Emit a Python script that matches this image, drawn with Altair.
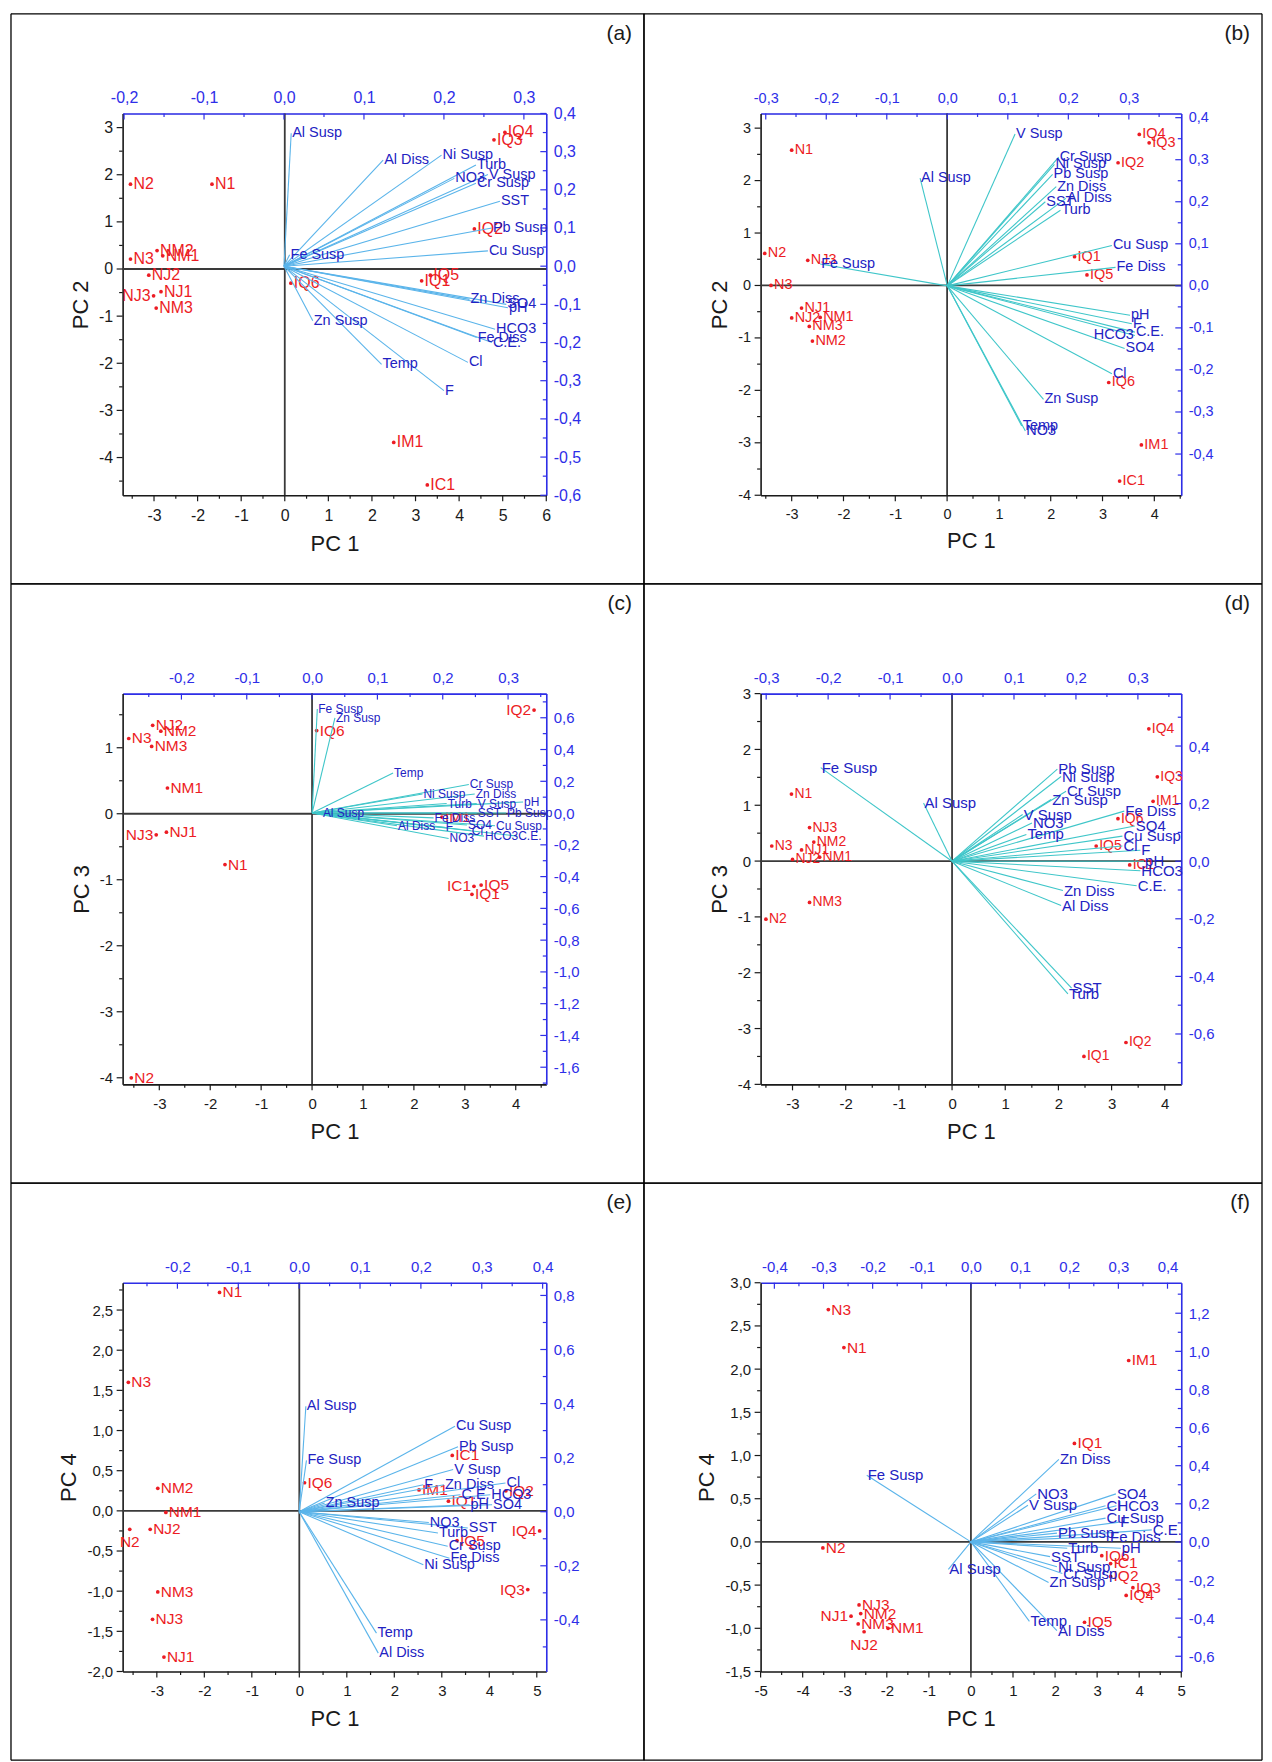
import math
import altair as alt
import pandas as pd

FONT = "Liberation Sans"
RED = "#ec1c24"
VBLUE = "#2222c2"
ABLUE = "#2e2ee8"
BLACK = "#1a1a1a"

# ---------------- panel (a): PC1 vs PC2 ----------------
a_pt_names = ["IQ4", "IQ3", "N2", "N1", "IQ2", "NM2", "N3", "NM1", "NJ2", "NJ1", "NJ3", "NM3", "IQ6", "IQ5", "IQ1", "IM1", "IC1"]
a_pt_x = [5.05, 4.8, -3.54, -1.67, 4.35, -2.93, -3.54, -2.8, -3.12, -2.84, -3.01, -2.95, 0.14, 3.34, 3.14, 2.5, 3.27]
a_pt_y = [2.9, 2.74, 1.8, 1.8, 0.85, 0.39, 0.21, 0.28, -0.13, -0.48, -0.57, -0.83, -0.3, -0.13, -0.25, -3.68, -4.58]
a_pt_side = ["r", "r", "r", "r", "r", "r", "r", "r", "r", "r", "l", "r", "r", "r", "r", "r", "r"]
a_vec_names = ["Al Susp", "Al Diss", "Ni Susp", "Turb", "V Susp", "NO3", "Cr Susp", "SST", "Pb Susp", "Cu Susp", "Fe Susp",
               "Zn Diss", "SO4", "pH", "HCO3", "Fe Diss", "C.E.", "Cl", "F", "Temp", "Zn Susp"]
a_vec_x = [0.009, 0.124, 0.197, 0.24, 0.255, 0.213, 0.24, 0.27, 0.26, 0.255, 0.007,
           0.232, 0.278, 0.28, 0.264, 0.241, 0.26, 0.23, 0.2, 0.122, 0.036]
a_vec_y = [0.348, 0.278, 0.291, 0.265, 0.24, 0.23, 0.217, 0.17, 0.10, 0.04, 0.03,
           -0.087, -0.1, -0.109, -0.165, -0.187, -0.2, -0.252, -0.326, -0.257, -0.143]
a_vec_side = ["r"] * len(a_vec_names)

# ---------------- panel (b): PC1 vs PC2 ----------------
b_pt_names = ["N1", "IQ4", "IQ3", "IQ2", "N2", "NJ3", "N3", "IQ1", "IQ5", "NJ1", "NJ2", "NM1", "NM3", "NM2", "IQ6", "IM1", "IC1"]
b_pt_x = [-3.0, 3.71, 3.9, 3.3, -3.52, -2.69, -3.4, 2.46, 2.7, -2.81, -3.0, -2.45, -2.66, -2.6, 3.12, 3.75, 3.33]
b_pt_y = [2.58, 2.88, 2.72, 2.34, 0.61, 0.48, 0.0, 0.55, 0.2, -0.43, -0.62, -0.61, -0.78, -1.06, -1.85, -3.04, -3.73]
b_pt_side = ["r"] * len(b_pt_names)
b_vec_names = ["V Susp", "Al Susp", "Cr Susp", "Ni Susp", "Pb Susp", "Zn Diss", "SST", "Al Diss", "Turb", "Cu Susp", "Fe Diss",
               "Fe Susp", "pH", "F", "C.E.", "HCO3", "SO4", "Cl", "Zn Susp", "Temp", "NO3"]
b_vec_x = [0.112, -0.045, 0.184, 0.177, 0.174, 0.18, 0.162, 0.196, 0.187, 0.272, 0.278,
           -0.21, 0.302, 0.305, 0.31, 0.31, 0.293, 0.272, 0.159, 0.123, 0.129]
b_vec_y = [0.361, 0.256, 0.306, 0.289, 0.265, 0.236, 0.2, 0.208, 0.18, 0.096, 0.044,
           0.052, -0.07, -0.09, -0.11, -0.118, -0.149, -0.209, -0.27, -0.333, -0.345]
b_vec_side = ["r"] * 15 + ["l"] + ["r"] * 5

# ---------------- panel (c): PC1 vs PC3 ----------------
c_pt_names = ["IQ2", "NJ2", "NM2", "N3", "NM3", "IQ6", "NM1", "NJ3", "NJ1", "N1", "IC1", "IQ5", "IQ1", "N2", "IM1"]
c_pt_x = [4.36, -3.13, -2.97, -3.6, -3.15, 0.09, -2.84, -3.06, -2.86, -1.71, 3.18, 3.32, 3.14, -3.55, 2.55]
c_pt_y = [1.57, 1.34, 1.25, 1.14, 1.02, 1.26, 0.39, -0.32, -0.28, -0.77, -1.1, -1.08, -1.22, -4.0, -0.05]
c_pt_side = ["l", "r", "r", "r", "r", "r", "r", "l", "r", "r", "l", "r", "r", "r", "r"]
c_vec_names = ["Fe Susp", "Zn Susp", "Temp", "Al Susp", "Ni Susp", "Cr Susp", "Zn Diss", "Turb", "V Susp", "pH", "SST",
               "Pb Susp", "Fe Diss", "Al Diss", "F", "SO4", "Cu Susp", "Cl", "NO3", "HCO3", "C.E."]
c_vec_x = [0.008, 0.035, 0.124, 0.015, 0.169, 0.24, 0.249, 0.206, 0.252, 0.323, 0.252,
           0.297, 0.186, 0.13, 0.203, 0.237, 0.28, 0.243, 0.209, 0.263, 0.314]
c_vec_y = [0.655, 0.6, 0.252, 0.0, 0.12, 0.18, 0.12, 0.06, 0.06, 0.07, 0.0,
           0.0, -0.03, -0.08, -0.09, -0.075, -0.08, -0.11, -0.16, -0.145, -0.145]
c_vec_side = ["r"] * len(c_vec_names)

# ---------------- panel (d): PC1 vs PC3 ----------------
d_pt_names = ["IQ4", "IQ3", "IM1", "N1", "NJ3", "NM2", "N3", "NJ1", "NJ2", "NM1", "IQ6", "IQ5", "IC1", "NM3", "N2", "IQ2", "IQ1"]
d_pt_x = [3.7, 3.86, 3.78, -3.02, -2.68, -2.6, -3.39, -2.83, -3.0, -2.49, 3.12, 2.71, 3.34, -2.68, -3.5, 3.27, 2.48]
d_pt_y = [2.37, 1.51, 1.07, 1.2, 0.6, 0.34, 0.27, 0.2, 0.03, 0.07, 0.76, 0.27, -0.07, -0.74, -1.04, -3.25, -3.5]
d_pt_side = ["r"] * len(d_pt_names)
d_vec_names = ["Fe Susp", "Al Susp", "Pb Susp", "Ni Susp", "Cr Susp", "Zn Susp", "V Susp", "NO3", "Temp", "Fe Diss", "SO4",
               "Cu Susp", "Cl", "F", "pH", "HCO3", "C.E.", "Zn Diss", "Al Diss", "SST", "Turb"]
d_vec_x = [-0.212, -0.046, 0.17, 0.176, 0.184, 0.16, 0.114, 0.129, 0.12, 0.278, 0.295,
           0.275, 0.275, 0.304, 0.31, 0.304, 0.298, 0.179, 0.176, 0.193, 0.187]
d_vec_y = [0.325, 0.202, 0.32, 0.294, 0.243, 0.214, 0.162, 0.133, 0.093, 0.174, 0.122,
           0.087, 0.053, 0.038, 0.0, -0.033, -0.085, -0.102, -0.154, -0.441, -0.461]
d_vec_side = ["r"] * len(d_vec_names)

# ---------------- panel (e): PC1 vs PC4 ----------------
e_pt_names = ["N1", "N3", "NM2", "IQ6", "NM1", "NJ2", "N2", "NM3", "NJ3", "NJ1", "IC1", "IM1", "IQ1", "IQ2", "IQ5", "IQ4", "IQ3"]
e_pt_x = [-1.68, -3.6, -2.98, 0.11, -2.81, -3.14, -3.57, -2.98, -3.09, -2.85, 3.22, 2.52, 3.14, 4.35, 3.32, 5.06, 4.81]
e_pt_y = [2.72, 1.6, 0.28, 0.35, -0.02, -0.23, -0.23, -1.01, -1.35, -1.82, 0.69, 0.26, 0.12, 0.25, -0.37, -0.25, -0.98]
e_pt_side = ["r", "r", "r", "r", "r", "r", "b", "r", "r", "r", "r", "r", "r", "r", "r", "l", "l"]
e_vec_names = ["Al Susp", "Fe Susp", "Cu Susp", "Pb Susp", "V Susp", "F", "Zn Diss", "Cl", "C.E.", "HCO3", "pH",
               "SO4", "Zn Susp", "NO3", "SST", "Turb", "Cr Susp", "Fe Diss", "Ni Susp", "Temp", "Al Diss"]
e_vec_x = [0.011, 0.012, 0.256, 0.261, 0.253, 0.204, 0.238, 0.339, 0.265, 0.314, 0.28,
           0.317, 0.042, 0.213, 0.277, 0.228, 0.244, 0.247, 0.204, 0.127, 0.13]
e_vec_y = [0.39, 0.19, 0.316, 0.24, 0.156, 0.1, 0.1, 0.106, 0.063, 0.063, 0.026,
           0.026, 0.032, -0.04, -0.06, -0.079, -0.128, -0.172, -0.196, -0.449, -0.523]
e_vec_side = ["r"] * len(e_vec_names)

# ---------------- panel (f): PC1 vs PC4 ----------------
f_pt_names = ["N3", "N1", "IM1", "IQ1", "N2", "IQ6", "IC1", "IQ2", "IQ3", "IQ4", "IQ5", "NJ3", "NJ1", "NM2", "NM3", "NM1", "NJ2"]
f_pt_x = [-3.39, -3.02, 3.75, 2.46, -3.52, 3.11, 3.32, 3.32, 3.85, 3.69, 2.7, -2.66, -2.85, -2.62, -2.68, -1.97, -2.54]
f_pt_y = [2.69, 2.25, 2.1, 1.14, -0.07, -0.16, -0.25, -0.4, -0.53, -0.62, -0.93, -0.73, -0.86, -0.83, -0.95, -1.0, -1.04]
f_pt_side = ["r"] * 12 + ["l", "r", "r", "r", "b"]
f_vec_names = ["Fe Susp", "Zn Diss", "NO3", "V Susp", "SO4", "Cl", "HCO3", "Cu Susp", "C.E.", "F", "Pb Susp",
               "Fe Diss", "Turb", "pH", "SST", "Ni Susp", "Cr Susp", "Zn Susp", "Al Susp", "Temp", "Al Diss"]
f_vec_x = [-0.212, 0.179, 0.133, 0.116, 0.295, 0.274, 0.296, 0.274, 0.368, 0.302, 0.175,
           0.281, 0.196, 0.305, 0.161, 0.175, 0.186, 0.158, -0.046, 0.119, 0.175]
f_vec_y = [0.35, 0.433, 0.252, 0.192, 0.252, 0.19, 0.19, 0.125, 0.063, 0.104, 0.046,
           0.028, -0.033, -0.033, -0.077, -0.13, -0.166, -0.213, -0.144, -0.417, -0.465]
f_vec_side = ["r"] * len(f_vec_names)

# ---------------- page grid (pixels) ----------------
COL_W = [425, 422]             # plot-area widths
ROW_H = [383, 392, 390]        # plot-area heights
COL_GAP = 215                  # gap between plot areas, horizontally
ROW_GAP = 199                  # gap between plot areas, vertically
COL_LEFT = [121, 121 + COL_W[0] + COL_GAP]
ROW_TOP = [109]
for _h in ROW_H[:-1]:
    ROW_TOP.append(ROW_TOP[-1] + _h + ROW_GAP)
X_EDGES = [9, 644, 1264]       # cell border x positions
Y_EDGES = [9, 581, 1182, 1761] # cell border y positions

MAJ_LEN = 6
MIN_LEN = 3.5


def ticks(lo, hi, step):
    k0 = math.ceil(lo / step - 1e-9)
    k1 = math.floor(hi / step + 1e-9)
    return [round(k * step, 6) for k in range(k0, k1 + 1)]


def label_expr(major, dec):
    cond = f"abs(datum.value/{major} - round(datum.value/{major})) < 1e-6"
    if dec == 0:
        lab = "'' + round(datum.value)"
    else:
        lab = "(datum.value < -1e-9 ? '-' : '') + replace(format(abs(datum.value), '.1f'), '.', ',')"
    return f"{cond} ? {lab} : ''"


def mk_axis(orient, dom, major, dec, color, tfs, label_pad, title_pad):
    return alt.Axis(
        orient=orient, values=ticks(dom[0], dom[1], major), labelExpr=label_expr(major, dec),
        grid=False, domainColor=color, domainWidth=1.6, tickSize=0, tickColor=color,
        labelColor=color, labelFont=FONT, labelFontSize=tfs, labelPadding=label_pad,
        labelOverlap=False, labelFlush=False, titleFont=FONT, titleFontSize=22,
        titleFontWeight="normal", titleColor=BLACK, titlePadding=title_pad,
    )


def tick_layers(enc_name, enc, field, dom, major, minor, pos_major, pos_minor, color):
    """Minor/major tick marks placed through the axis scale."""
    majors = ticks(dom[0], dom[1], major)
    minors = [v for v in ticks(dom[0], dom[1], minor) if min(abs(v - m) for m in majors) > 1e-6]
    out = []
    orient = "vertical" if enc_name == "x" else "horizontal"
    other = "y" if enc_name == "x" else "x"
    for vals, pos, ln in ((majors, pos_major, MAJ_LEN), (minors, pos_minor, MIN_LEN)):
        if not vals:
            continue
        df = pd.DataFrame({field: vals})
        out.append(alt.Chart(df).mark_tick(orient=orient, size=ln, thickness=1.2, color=color, opacity=1)
                   .encode(**{enc_name: enc, other: alt.value(pos)}))
    return out


def panel(cfg, names, xs, ys, sides, vnames, vxs, vys, vsides):
    pdf = pd.DataFrame({"name": names, "px": xs, "py": ys, "side": sides})
    vdf = pd.DataFrame({"name": vnames, "lx": vxs, "ly": vys, "side": vsides})
    vdf["x0"] = 0.0
    vdf["y0"] = 0.0
    tfs = cfg["tfs"]
    c, r = cfg["col"], cfg["row"]
    W, H = COL_W[c], ROW_H[r]

    X = alt.X("px:Q", scale=alt.Scale(domain=cfg["sx"], nice=False, zero=False),
              axis=mk_axis("bottom", cfg["sx"], cfg["xmaj"], 0, BLACK, tfs, 12, 10), title="PC 1")
    Y = alt.Y("py:Q", scale=alt.Scale(domain=cfg["sy"], nice=False, zero=False),
              axis=mk_axis("left", cfg["sy"], cfg["ymaj"], cfg["ydec"], BLACK, tfs, 10, 6), title=cfg["ylab"])
    LX = alt.X("lx:Q", scale=alt.Scale(domain=cfg["lxd"], nice=False, zero=False),
               axis=mk_axis("top", cfg["lxd"], cfg["lxmaj"], 1, ABLUE, tfs, 8, 4), title=None)
    LY = alt.Y("ly:Q", scale=alt.Scale(domain=cfg["lyd"], nice=False, zero=False),
               axis=mk_axis("right", cfg["lyd"], cfg["lymaj"], 1, ABLUE, tfs, 7, 4), title=None)

    xl = X_EDGES[c] - COL_LEFT[c]
    xr = X_EDGES[c + 1] - COL_LEFT[c]
    yt = Y_EDGES[r] - ROW_TOP[r]
    yb = Y_EDGES[r + 1] - ROW_TOP[r]
    one = pd.DataFrame({"k": [0]})
    bc = dict(color="black", strokeWidth=1.3)
    borders = [
        alt.Chart(one).mark_rule(**bc).encode(x=alt.value(xl), x2=alt.value(xr), y=alt.value(yt)),
        alt.Chart(one).mark_rule(**bc).encode(x=alt.value(xl), x2=alt.value(xr), y=alt.value(yb)),
        alt.Chart(one).mark_rule(**bc).encode(x=alt.value(xl), y=alt.value(yt), y2=alt.value(yb)),
        alt.Chart(one).mark_rule(**bc).encode(x=alt.value(xr), y=alt.value(yt), y2=alt.value(yb)),
    ]
    letter = alt.Chart(one).mark_text(align="right", baseline="middle", font=FONT, fontSize=21, color=BLACK,
                                      text=cfg["letter"]).encode(x=alt.value(xr - 12), y=alt.value(yt + 20))
    zero = pd.DataFrame({"px": [0.0], "py": [0.0]})
    zl = dict(color="#3a3a3a", strokeWidth=1.8)
    score_layers = borders + [
        letter,
        alt.Chart(zero).mark_rule(**zl).encode(x=X),
        alt.Chart(zero).mark_rule(**zl).encode(y=Y),
    ]
    # outward ticks on bottom / left axes
    score_layers += tick_layers("x", X, "px", cfg["sx"], cfg["xmaj"], cfg["xmin"],
                                H + MAJ_LEN / 2, H + MIN_LEN / 2, BLACK)
    score_layers += tick_layers("y", Y, "py", cfg["sy"], cfg["ymaj"], cfg["ymin"],
                                -MAJ_LEN / 2, -MIN_LEN / 2, BLACK)
    score_layers.append(alt.Chart(pdf).mark_circle(size=14, color=RED, opacity=1).encode(x=X, y=Y))
    pt_styles = {"r": dict(align="left", dx=3, dy=0), "l": dict(align="right", dx=-3, dy=0),
                 "b": dict(align="center", dx=0, dy=13)}
    for s, st in pt_styles.items():
        sub = pdf[pdf["side"] == s]
        if len(sub):
            score_layers.append(
                alt.Chart(sub).mark_text(baseline="middle", font=FONT, fontSize=cfg["pfs"], color=RED, **st)
                .encode(x=X, y=Y, text="name:N"))

    vec_layers = [
        alt.Chart(vdf).mark_rule(color=cfg["vcolor"], strokeWidth=1.1)
        .encode(x=LX, y=LY, x2=alt.X2("x0"), y2=alt.Y2("y0")),
    ]
    # inward ticks on top / right axes
    vec_layers += tick_layers("x", LX, "lx", cfg["lxd"], cfg["lxmaj"], cfg["lxmin"],
                              MAJ_LEN / 2, MIN_LEN / 2, ABLUE)
    vec_layers += tick_layers("y", LY, "ly", cfg["lyd"], cfg["lymaj"], cfg["lymin"],
                              W - MAJ_LEN / 2, W - MIN_LEN / 2, ABLUE)
    v_styles = {"r": dict(align="left", dx=1), "l": dict(align="right", dx=-1)}
    for s, st in v_styles.items():
        sub = vdf[vdf["side"] == s]
        if len(sub):
            vec_layers.append(
                alt.Chart(sub).mark_text(baseline="middle", font=FONT, fontSize=cfg["vfs"], color=VBLUE, **st)
                .encode(x=LX, y=LY, text="name:N"))
    return (alt.layer(alt.layer(*score_layers), alt.layer(*vec_layers))
            .resolve_scale(x="independent", y="independent")
            .properties(width=W, height=H))


common = dict(xmaj=1, xmin=0.5, ymaj=1, ymin=0.5, ydec=0, lxmaj=0.1, lxmin=0.05)
cfg_a = dict(common, letter="(a)", ylab="PC 2", col=0, row=0, sx=[-3.72, 6.0], sy=[-4.8, 3.3],
             lxd=[-0.2018, 0.328], lyd=[-0.6, 0.4], lymaj=0.1, lymin=0.05, vcolor="#5ab4ea",
             pfs=16, vfs=14.5, tfs=16)
cfg_b = dict(common, letter="(b)", ylab="PC 2", col=1, row=0, sx=[-3.6, 4.52], sy=[-4.0, 3.28],
             lxd=[-0.3085, 0.3866], lyd=[-0.498, 0.41], lymaj=0.1, lymin=0.05,
             vcolor="#3fc6c9", pfs=14.5, vfs=14.5, tfs=14.5)
cfg_c = dict(common, letter="(c)", ylab="PC 3", col=0, row=1, sx=[-3.72, 4.6], sy=[-4.1, 1.82],
             lxd=[-0.29, 0.3585], lyd=[-1.708, 0.752], lymaj=0.2, lymin=0.1,
             vcolor="#3fc6c9", pfs=15.5, vfs=12, tfs=15)
cfg_d = dict(common, letter="(d)", ylab="PC 3", col=1, row=1, sx=[-3.6, 4.31], sy=[-4.0, 3.0],
             lxd=[-0.309, 0.37], lyd=[-0.775, 0.582], lymaj=0.2, lymin=0.1,
             vcolor="#3fc6c9", pfs=14, vfs=15, tfs=15)
cfg_e = dict(common, letter="(e)", ylab="PC 4", col=0, row=2, sx=[-3.72, 5.2], sy=[-2.0, 2.84],
             lxd=[-0.29, 0.406], lyd=[-0.591, 0.847], lymaj=0.2, lymin=0.1,
             vcolor="#5ab4ea", pfs=15.5, vfs=14.5, tfs=15)
cfg_e.update(ymaj=0.5, ymin=0.25, ydec=1)
cfg_f = dict(common, letter="(f)", ylab="PC 4", col=1, row=2, sx=[-5.0, 5.0], sy=[-1.5, 3.0],
             lxd=[-0.428, 0.428], lyd=[-0.68, 1.36], lymaj=0.2, lymin=0.1,
             vcolor="#5ab4ea", pfs=15.5, vfs=15, tfs=15)
cfg_f.update(ymaj=0.5, ymin=0.25, ydec=1)

pa = panel(cfg_a, a_pt_names, a_pt_x, a_pt_y, a_pt_side, a_vec_names, a_vec_x, a_vec_y, a_vec_side)
pb = panel(cfg_b, b_pt_names, b_pt_x, b_pt_y, b_pt_side, b_vec_names, b_vec_x, b_vec_y, b_vec_side)
pc = panel(cfg_c, c_pt_names, c_pt_x, c_pt_y, c_pt_side, c_vec_names, c_vec_x, c_vec_y, c_vec_side)
pd_ = panel(cfg_d, d_pt_names, d_pt_x, d_pt_y, d_pt_side, d_vec_names, d_vec_x, d_vec_y, d_vec_side)
pe = panel(cfg_e, e_pt_names, e_pt_x, e_pt_y, e_pt_side, e_vec_names, e_vec_x, e_vec_y, e_vec_side)
pf = panel(cfg_f, f_pt_names, f_pt_x, f_pt_y, f_pt_side, f_vec_names, f_vec_x, f_vec_y, f_vec_side)

chart = (alt.concat(pa, pb, pc, pd_, pe, pf, columns=2, bounds="flush",
                    spacing={"row": ROW_GAP, "column": COL_GAP})
         .properties(padding={"left": 1, "top": 1, "right": 0, "bottom": 0})
         .configure_view(strokeWidth=0)
         .configure(background="white"))

chart.save("out.html", embed_options={"renderer": "svg", "actions": False})
